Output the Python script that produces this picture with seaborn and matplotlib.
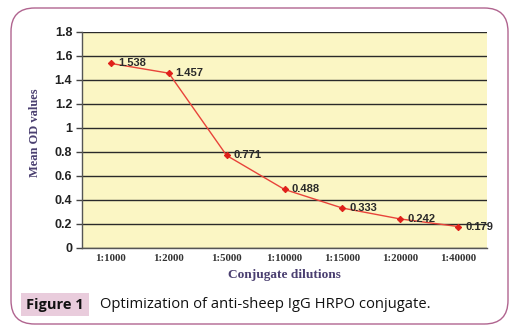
import matplotlib
matplotlib.use("Agg")
import matplotlib.pyplot as plt
from matplotlib.patches import FancyBboxPatch, Rectangle
import seaborn as sns
import pandas as pd
import numpy as np

dilutions = ["1:1000", "1:2000", "1:5000", "1:10000", "1:15000", "1:20000", "1:40000"]
od_values = [1.538, 1.457, 0.771, 0.488, 0.333, 0.242, 0.179]
y_ticks = [0, 0.2, 0.4, 0.6, 0.8, 1, 1.2, 1.4, 1.6, 1.8]
y_tick_labels = ["0", "0.2", "0.4", "0.6", "0.8", "1", "1.2", "1.4", "1.6", "1.8"]

df = pd.DataFrame({"dilution": dilutions, "od": od_values})

sns.set_theme(style="white")
fig = plt.figure(figsize=(5.25, 3.33), dpi=100)
fig.patch.set_facecolor("white")

# rounded frame
frame = FancyBboxPatch((11/525, 9/333), 497/525, 316/333,
                       boxstyle="round,pad=0,rounding_size=0.045",
                       transform=fig.transFigure, facecolor="none",
                       edgecolor="#B0648F", linewidth=1.0, mutation_aspect=525/333)
fig.patches.append(frame)

ax = fig.add_axes([82/525, 1 - 248/333, 405/525, 216/333])
ax.set_facecolor("#FBF6C4")

sns.lineplot(data=df, x="dilution", y="od", ax=ax, color="#E8433A",
             linewidth=1.0, marker="D", markersize=3.2, markeredgecolor="#E0201A",
             markerfacecolor="#E0201A", sort=False)

ax.set_xlim(-0.5, 6.5)
ax.set_ylim(0, 1.8)
ax.set_yticks(y_ticks)
ax.set_yticklabels(y_tick_labels, fontsize=9, fontweight="bold", color="#222222",
                   family="Liberation Sans")
ax.grid(axis="y", color="#2a2a2a", linewidth=1.0)
ax.set_axisbelow(True)

ax.set_xticks(range(len(dilutions)))
ax.set_xticklabels(dilutions, fontsize=7.8, fontweight="bold", color="#333333",
                   family="Liberation Serif")
ax.set_xticks(np.arange(-0.5, 7.0, 1.0), minor=True)
ax.tick_params(axis="x", which="major", length=0, pad=4)
ax.tick_params(axis="x", which="minor", length=4, width=1, color="#444444", direction="out")
ax.tick_params(axis="y", length=4, width=1, color="#444444", direction="out", left=True, pad=3)

for s in ["top", "right"]:
    ax.spines[s].set_visible(False)
for s in ["left", "bottom"]:
    ax.spines[s].set_color("#555555")
    ax.spines[s].set_linewidth(1.0)

for i, v in enumerate(od_values):
    ax.annotate(f"{v:.3f}", (i, v), xytext=(5, 0), textcoords="offset points",
                fontsize=8, fontweight="bold", color="#2a2a2a", va="center", ha="left",
                family="Liberation Sans")

ax.set_xlabel("Conjugate dilutions", fontsize=9.6, fontweight="bold", color="#4A3F70",
              family="Liberation Serif")
ax.xaxis.set_label_coords(0.5, -0.095)
ax.set_ylabel("Mean OD values", fontsize=9, fontweight="bold", color="#4A3F70",
              family="Liberation Serif")
ax.yaxis.set_label_coords(-0.10, 0.532)

# caption
fig.patches.append(Rectangle((21/525, 1 - 316/333), 68/525, 23/333,
                             transform=fig.transFigure, facecolor="#E9CCDC",
                             edgecolor="none"))
fig.text(55/525, 1 - 305/333, "Figure 1", fontsize=10.5, fontweight="bold",
         ha="center", va="center", color="#111111", family="Open Sans")
fig.text(100/525, 1 - 305/333, "Optimization of anti-sheep IgG HRPO conjugate.",
         fontsize=10.6, ha="left", va="center", color="#111111", family="Open Sans")

fig.savefig("out.png", dpi=100)
